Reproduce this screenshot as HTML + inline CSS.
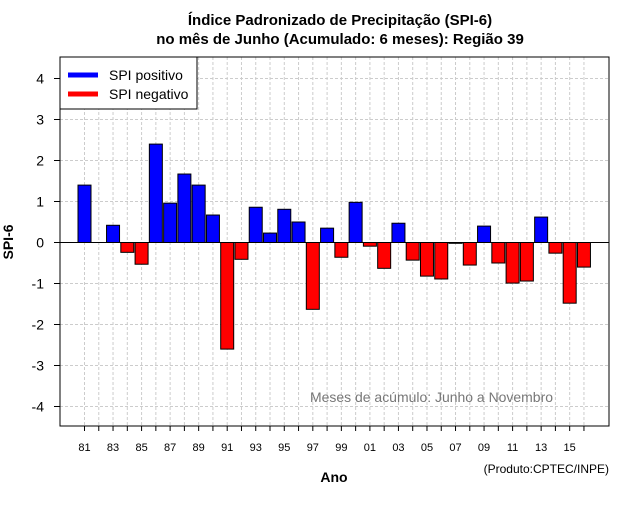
<!DOCTYPE html>
<html><head><meta charset="utf-8"><style>
body{margin:0;background:#fff;font-family:"Liberation Sans",sans-serif}
</style></head><body>
<svg id="c" width="640" height="500" xmlns="http://www.w3.org/2000/svg" font-family="Liberation Sans, sans-serif">
<text x="340" y="25" text-anchor="middle" font-size="15" font-weight="bold">Índice Padronizado de Precipitação (SPI-6)</text>
<text x="340" y="44" text-anchor="middle" font-size="15" font-weight="bold">no mês de Junho (Acumulado: 6 meses): Região 39</text>
<g id="grid"></g><g id="bars"></g><g id="axes"></g>
<text x="310" y="402" font-size="14" fill="#777" textLength="243" lengthAdjust="spacingAndGlyphs">Meses de acúmulo: Junho a Novembro</text>
<text x="334" y="482" text-anchor="middle" font-size="14" font-weight="bold">Ano</text>
<text x="13" y="242" text-anchor="middle" font-size="14" font-weight="bold" transform="rotate(-90 13 242)">SPI-6</text>
<text x="609" y="473" text-anchor="end" font-size="12">(Produto:CPTEC/INPE)</text>
<g>
<rect x="60" y="57" width="137" height="52" fill="#fff" stroke="#000"/>
<line x1="68" y1="75" x2="98" y2="75" stroke="#00f" stroke-width="5"/>
<text x="109" y="80" font-size="14">SPI positivo</text>
<line x1="68" y1="94" x2="98" y2="94" stroke="#f00" stroke-width="5"/>
<text x="109" y="99" font-size="14">SPI negativo</text>
</g>
</svg>
<script>
const years=[81,82,83,84,85,86,87,88,89,90,91,92,93,94,95,96,97,98,99,0,1,2,3,4,5,6,7,8,9,10,11,12,13,14,15,16];
const spi=[1.40,0,0.42,-0.24,-0.53,2.40,0.96,1.67,1.40,0.67,-2.60,-0.41,0.86,0.23,0.81,0.50,-1.63,0.35,-0.36,0.98,-0.09,-0.63,0.47,-0.43,-0.82,-0.89,-0.02,-0.55,0.40,-0.50,-0.99,-0.94,0.62,-0.26,-1.48,-0.60];
const yTicks=[-4,-3,-2,-1,0,1,2,3,4];
const NS="http://www.w3.org/2000/svg";
const L=60,R=609,T=57,B=426;
const x=i=>84.5+i*14.27;
const y=v=>242.5-v*41;
function mk(t,a,p){const e=document.createElementNS(NS,t);for(const k in a)e.setAttribute(k,a[k]);p.appendChild(e);return e;}
const g=document.getElementById('grid'),b=document.getElementById('bars'),ax=document.getElementById('axes');
yTicks.forEach(v=>{const l=mk('line',{x1:L,x2:R,y1:y(v),y2:y(v),stroke:'#ccc','stroke-dasharray':'3,2'},g);


const tk=mk('line',{x1:L-6,x2:L,y1:y(v),y2:y(v),stroke:'#000'},ax);


const t=mk('text',{x:L-16,y:y(v)+5,'text-anchor':'end','font-size':14},ax);t.textContent=v;

});
years.forEach((yr,i)=>{const l=mk('line',{x1:x(i),x2:x(i),y1:T,y2:B,stroke:'#ccc','stroke-dasharray':'3,2'},g);


const tk=mk('line',{x1:x(i),x2:x(i),y1:B,y2:B+5,stroke:'#000'},ax);


if(i%2==0){const t=mk('text',{x:x(i),y:451,'text-anchor':'middle','font-size':11},ax);t.textContent=String(yr).padStart(2,'0');

}
const v=spi[i];if(v===0)return;
const r=mk('rect',{x:x(i)-6.5,y:Math.min(y(v),y(0)),width:13,height:Math.abs(y(v)-y(0)),fill:v>0?'#00f':'#f00',stroke:'#000','stroke-width':1},b);

});
const z=mk('line',{x1:L,x2:R,y1:y(0),y2:y(0),stroke:'#000'},ax);


const f=mk('rect',{x:L,y:T,width:R-L,height:B-T,fill:'none',stroke:'#000'},ax);


</script>
</body></html>
